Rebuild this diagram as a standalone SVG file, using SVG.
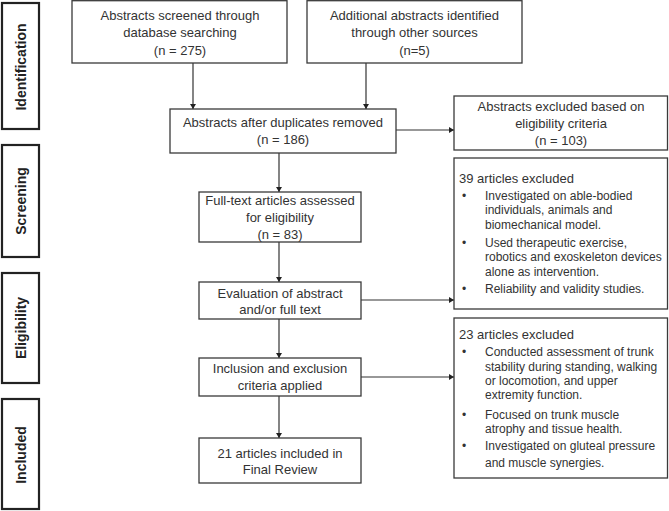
<svg xmlns="http://www.w3.org/2000/svg" width="669" height="511" viewBox="0 0 669 511">
<style>
.box{fill:#fff;stroke:#3a3a3a;stroke-width:1.3}
.side{fill:#fff;stroke:#222;stroke-width:2.2}
.t{font-family:"Liberation Sans",Arial,sans-serif;font-size:13px;fill:#333;text-anchor:middle}
.r{font-family:"Liberation Sans",Arial,sans-serif;font-size:12px;fill:#333}
.h{font-family:"Liberation Sans",Arial,sans-serif;font-size:13px;fill:#333}
.s{font-family:"Liberation Sans",Arial,sans-serif;font-size:14px;font-weight:bold;fill:#222;text-anchor:middle}
.c{stroke:#333;stroke-width:1.2;fill:none}
</style>
<defs>
<marker id="ah" markerWidth="6" markerHeight="6" refX="5" refY="3" orient="auto" markerUnits="userSpaceOnUse">
<path d="M0,0 L5,3 L0,6 Z" fill="#222"/>
</marker>
</defs>
<rect width="669" height="511" fill="#fff"/>
<g id="side-identification"><rect class="side" x="2" y="3" width="37" height="126"/><text class="s" transform="translate(26,67) rotate(-90)">Identification</text></g>
<g id="side-screening"><rect class="side" x="2" y="145" width="37" height="112"/><text class="s" transform="translate(26,201) rotate(-90)">Screening</text></g>
<g id="side-eligibility"><rect class="side" x="2" y="273" width="37" height="110"/><text class="s" transform="translate(26,328) rotate(-90)">Eligibility</text></g>
<g id="side-included"><rect class="side" x="2" y="399" width="37" height="110"/><text class="s" transform="translate(26,455) rotate(-90)">Included</text></g>

<g id="connectors">
<line class="c" x1="193" y1="63" x2="193" y2="109" marker-end="url(#ah)"/>
<line class="c" x1="366" y1="63" x2="366" y2="109" marker-end="url(#ah)"/>
<line class="c" x1="279" y1="153" x2="279" y2="192" marker-end="url(#ah)"/>
<line class="c" x1="279" y1="242" x2="279" y2="282" marker-end="url(#ah)"/>
<line class="c" x1="279" y1="319" x2="279" y2="358" marker-end="url(#ah)"/>
<line class="c" x1="279" y1="396" x2="279" y2="438" marker-end="url(#ah)"/>
<line class="c" x1="396" y1="130" x2="454" y2="130" marker-end="url(#ah)"/>
<line class="c" x1="361" y1="300" x2="454" y2="300" marker-end="url(#ah)"/>
<line class="c" x1="361" y1="377" x2="454" y2="377" marker-end="url(#ah)"/>
</g>

<g id="n-database"><rect class="box" x="72" y="0.7" width="215" height="62.3"/>
<text class="t" x="180" y="20">Abstracts screened through</text>
<text class="t" x="180" y="37">database searching</text>
<text class="t" x="180" y="55">(n = 275)</text></g>

<g id="n-additional"><rect class="box" x="307" y="0.7" width="215" height="62.3"/>
<text class="t" x="414.5" y="20">Additional abstracts identified</text>
<text class="t" x="414.5" y="37">through other sources</text>
<text class="t" x="414.5" y="55">(n=5)</text></g>

<g id="n-duplicates"><rect class="box" x="170" y="109" width="226" height="44"/>
<text class="t" x="283" y="127">Abstracts after duplicates removed</text>
<text class="t" x="283" y="144">(n = 186)</text></g>

<g id="n-excluded103"><rect class="box" x="454" y="96" width="213.5" height="54"/>
<text class="t" x="561" y="111">Abstracts excluded based on</text>
<text class="t" x="561" y="128">eligibility criteria</text>
<text class="t" x="561" y="145">(n = 103)</text></g>

<g id="n-fulltext"><rect class="box" x="199" y="192" width="162" height="50"/>
<text class="t" x="280" y="205">Full-text articles assessed</text>
<text class="t" x="280" y="222">for eligibility</text>
<text class="t" x="280" y="239">(n = 83)</text></g>

<g id="n-evaluation"><rect class="box" x="199" y="282" width="162" height="37"/>
<text class="t" x="280" y="298">Evaluation of abstract</text>
<text class="t" x="280" y="314">and/or full text</text></g>

<g id="n-inclusion"><rect class="box" x="199" y="358" width="162" height="38"/>
<text class="t" x="280" y="373">Inclusion and exclusion</text>
<text class="t" x="280" y="390">criteria applied</text></g>

<g id="n-included"><rect class="box" x="199" y="438" width="162" height="45"/>
<text class="t" x="280" y="458">21 articles included in</text>
<text class="t" x="280" y="474">Final Review</text></g>

<g id="n-excluded39"><rect class="box" x="454" y="158" width="213.5" height="151"/>
<text class="h" x="459" y="183">39 articles excluded</text>
<text class="r" x="462" y="200">•</text>
<text class="r" x="485" y="200">Investigated on able-bodied</text>
<text class="r" x="485" y="214">individuals, animals and</text>
<text class="r" x="485" y="229">biomechanical model.</text>
<text class="r" x="462" y="247">•</text>
<text class="r" x="485" y="247">Used therapeutic exercise,</text>
<text class="r" x="485" y="261">robotics and exoskeleton devices</text>
<text class="r" x="485" y="276">alone as intervention.</text>
<text class="r" x="462" y="293">•</text>
<text class="r" x="485" y="293">Reliability and validity studies.</text></g>

<g id="n-excluded23"><rect class="box" x="454" y="318" width="213.5" height="160"/>
<text class="h" x="459" y="339">23 articles excluded</text>
<text class="r" x="462" y="356">•</text>
<text class="r" x="485" y="356">Conducted assessment of trunk</text>
<text class="r" x="485" y="371">stability during standing, walking</text>
<text class="r" x="485" y="385">or locomotion, and upper</text>
<text class="r" x="485" y="399">extremity function.</text>
<text class="r" x="462" y="419">•</text>
<text class="r" x="485" y="419">Focused on trunk muscle</text>
<text class="r" x="485" y="433">atrophy and tissue health.</text>
<text class="r" x="462" y="450">•</text>
<text class="r" x="485" y="450">Investigated on gluteal pressure</text>
<text class="r" x="485" y="467">and muscle synergies.</text></g>
</svg>
